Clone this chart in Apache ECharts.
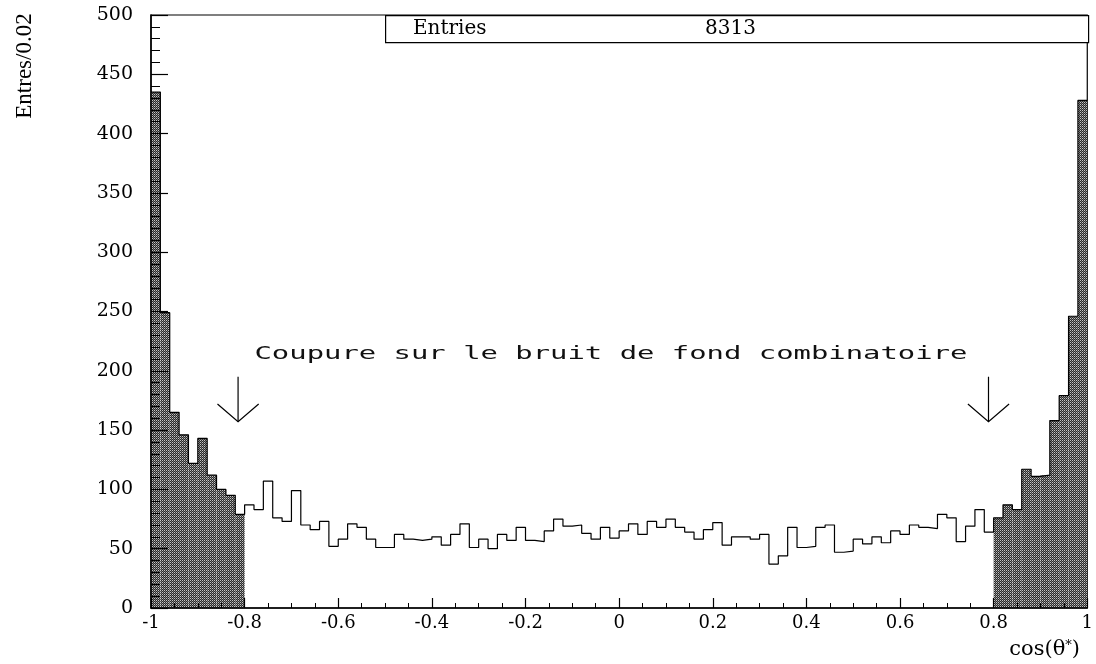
<!DOCTYPE html>
<html><head><meta charset="utf-8">
<script src="https://cdn.jsdelivr.net/npm/echarts@6/dist/echarts.min.js"></script>
<style>html,body{margin:0;padding:0;background:#fff}#c{width:1096px;height:664px}</style>
</head><body><div id="c"></div>
<script>
// ---- data ----
const binLow = -1;
const binWidth = 0.02;
const counts = [
  435, 249, 165, 146, 122, 143, 112, 100, 95, 79,
  87, 83, 107, 76, 73, 99, 70, 66, 73, 52,
  58, 71, 68, 58, 51, 51, 62, 58, 57, 58,
  60, 53, 62, 71, 51, 58, 50, 62, 57, 68,
  57, 56, 65, 75, 69, 70, 63, 58, 68, 59,
  65, 71, 62, 73, 68, 75, 68, 64, 58, 66,
  72, 53, 60, 60, 58, 62, 37, 44, 68, 51,
  52, 68, 70, 47, 48, 58, 54, 60, 55, 65,
  62, 70, 68, 67, 79, 76, 56, 69, 83, 64,
  76, 87, 83, 117, 111, 112, 158, 179, 246, 428
];
const cutLow = -0.8;
const cutHigh = 0.8;
const entries = 8313;
const xRange = [-1, 1], xStep = 0.2;
const yRange = [0, 500], yStep = 50;
const arrowXs = [-0.814, 0.789];
const arrowTop = 195, arrowTip = 157, arrowWing = 172, arrowHalf = 0.044;
const annText = 'Coupure sur le bruit de fond combinatoire';
const annSpan = [-0.779, 0.744];
const annY = 214;
const yTitle = 'Entres/0.02';

// ---- pattern for shaded bins ----
const pc = document.createElement('canvas'); pc.width = 2; pc.height = 2;
const pg = pc.getContext('2d');
pg.fillStyle = '#2a2a2a'; pg.fillRect(0, 0, 2, 2);
pg.fillStyle = '#c4c4c4'; pg.fillRect(0, 0, 1, 1);
pg.fillStyle = '#777'; pg.fillRect(1, 1, 1, 1);

const shaded = [];
counts.forEach((v, i) => {
  const a = binLow + i * binWidth, b = binLow + (i + 1) * binWidth;
  if (b <= cutLow + 1e-9 || a >= cutHigh - 1e-9) shaded.push([a, b, v]);
});
const outline = counts.map((v, i) => [binLow + i * binWidth, v]);
outline.push([binLow + counts.length * binWidth, counts[counts.length - 1]]);

const annFont = '18px "DejaVu Sans Mono"';
const mctx = document.createElement('canvas').getContext('2d');
mctx.font = annFont;
const annW = mctx.measureText(annText).width;

const serif = '"DejaVu Serif", serif';
const chart = echarts.init(document.getElementById('c'), null, {renderer: 'canvas'});
chart.setOption({
  animation: false,
  backgroundColor: '#fff',
  grid: {left: 151, right: 8, top: 15, bottom: 56, show: true, borderColor: '#000', borderWidth: 1.2, backgroundColor: 'transparent'},
  xAxis: {
    type: 'value', min: xRange[0], max: xRange[1], interval: xStep, z: 5,
    axisLine: {show: true, onZero: false, lineStyle: {color: '#000', width: 1.5}},
    axisTick: {show: true, inside: true, length: 10, lineStyle: {color: '#000', width: 1.2}},
    minorTick: {show: true, splitNumber: 4, length: 5, lineStyle: {color: '#000', width: 1}},
    splitLine: {show: false},
    axisLabel: {color: '#000', fontFamily: serif, fontSize: 18, margin: 6}
  },
  yAxis: {
    type: 'value', min: yRange[0], max: yRange[1], interval: yStep, z: 5,
    axisLine: {show: true, onZero: false, lineStyle: {color: '#000', width: 1.5}},
    axisTick: {show: true, inside: true, length: 17, lineStyle: {color: '#000', width: 1.2}},
    minorTick: {show: true, splitNumber: 5, length: 9, lineStyle: {color: '#000', width: 1}},
    splitLine: {show: false},
    axisLabel: {color: '#000', fontFamily: serif, fontSize: 19, margin: 18}
  },
  series: [
    {
      type: 'custom', data: shaded, encode: {x: [0, 1], y: 2}, z: 2, silent: true,
      renderItem: (p, api) => {
        const p0 = api.coord([api.value(0), api.value(2)]);
        const p1 = api.coord([api.value(1), 0]);
        return {type: 'rect', shape: {x: p0[0], y: p0[1], width: p1[0] - p0[0], height: p1[1] - p0[1]},
          style: {fill: {image: pc, repeat: 'repeat'}, stroke: null}};
      }
    },
    {
      type: 'line', step: 'end', data: outline, symbol: 'none', z: 3, silent: true,
      lineStyle: {color: '#000', width: 1.2}
    },
    {
      type: 'custom', data: arrowXs.map(x => [x, arrowTip]), encode: {x: 0, y: 1}, z: 4, silent: true, clip: false,
      renderItem: (p, api) => {
        const x = api.value(0);
        const t = api.coord([x, arrowTop]);
        const tip = api.coord([x, arrowTip]);
        const wl = api.coord([x - arrowHalf, arrowWing]);
        const wr = api.coord([x + arrowHalf, arrowWing]);
        return {type: 'group', children: [
          {type: 'line', shape: {x1: t[0], y1: t[1], x2: tip[0], y2: tip[1]}, style: {stroke: '#000', lineWidth: 1.2}},
          {type: 'polyline', shape: {points: [wl, tip, wr]}, style: {stroke: '#000', lineWidth: 1.2, fill: null}}
        ]};
      }
    },
    {
      type: 'custom', data: [[annSpan[0], annY]], encode: {x: 0, y: 1}, z: 4, silent: true, clip: false,
      renderItem: (p, api) => {
        const l = api.coord([annSpan[0], annY]);
        const r = api.coord([annSpan[1], annY]);
        return {type: 'text', x: l[0], y: l[1], scaleX: (r[0] - l[0]) / annW,
          style: {text: annText, font: annFont, fill: '#111', align: 'left', verticalAlign: 'middle'}};
      }
    }
  ],
  graphic: [
    {type: 'rect', left: 385, top: 15, shape: {width: 703, height: 27}, z: 10,
      style: {fill: '#fff', stroke: '#000', lineWidth: 1.2}},
    {type: 'text', x: 413, y: 29, z: 11,
      style: {text: 'Entries', font: '20px "DejaVu Serif"', fill: '#000', align: 'left', verticalAlign: 'middle'}},
    {type: 'text', x: 705, y: 29, z: 11,
      style: {text: String(entries), font: '20px "DejaVu Serif"', fill: '#000', align: 'left', verticalAlign: 'middle'}},
    {type: 'text', x: 25, y: 66, rotation: Math.PI / 2, z: 11,
      style: {text: yTitle, font: '23px "Liberation Serif"', fill: '#000', align: 'center', verticalAlign: 'middle'}},
    {type: 'text', x: 1080, y: 650, z: 11,
      style: {text: '{a|cos(θ}{s|*}{a|)}', align: 'right', verticalAlign: 'middle', fill: '#000',
        rich: {a: {font: '21px "DejaVu Serif"', fill: '#000', verticalAlign: 'bottom'},
               s: {font: '13px "DejaVu Serif"', fill: '#000', verticalAlign: 'top'}}}}
  ]
});
</script>
</body></html>
